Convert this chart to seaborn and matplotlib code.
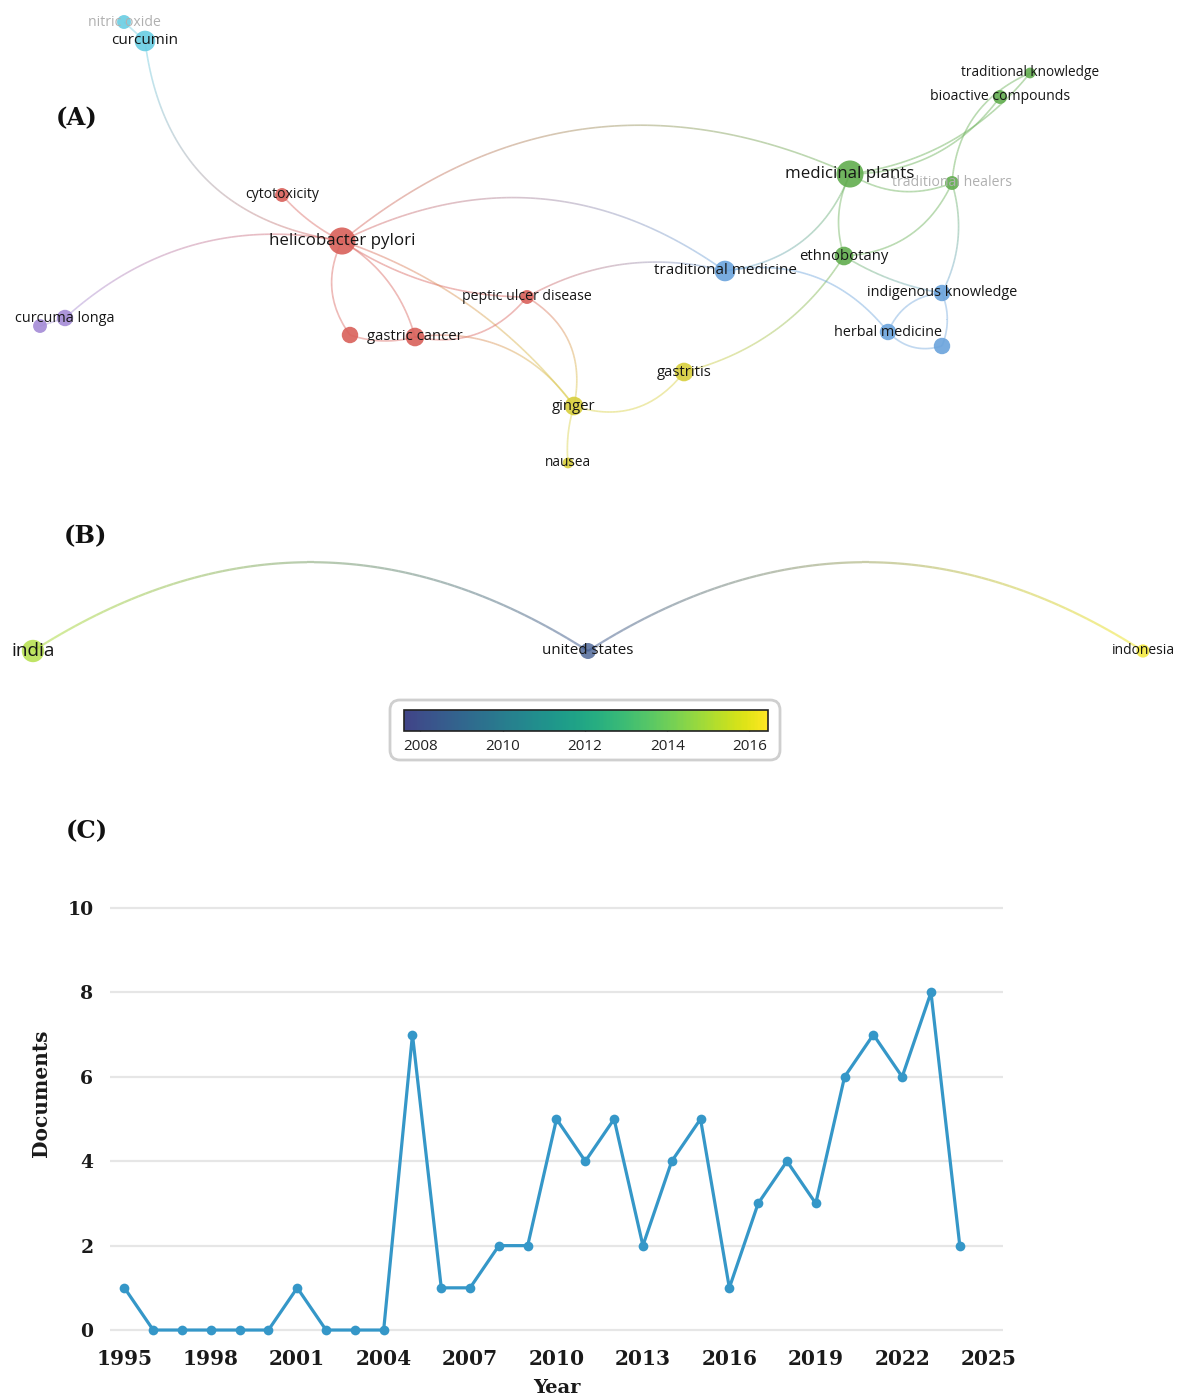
import numpy as np
import pandas as pd
import matplotlib
matplotlib.use("Agg")
import matplotlib.pyplot as plt
import seaborn as sns
from matplotlib.collections import LineCollection
from matplotlib.patches import FancyBboxPatch
from matplotlib.colors import Normalize, to_rgb, LinearSegmentedColormap
from matplotlib.cm import ScalarMappable

sns.set_theme(style="white")
plt.rcParams['font.family'] = ['Open Sans', 'DejaVu Sans']

# ==========================================
# (A) keyword co-occurrence network (positions, pixel units)
# ==========================================
kw_ids = ["nitric oxide", "curcumin", "cytotoxicity", "helicobacter pylori",
          "curcuma longa", "purple_2", "peptic ulcer disease", "red_2",
          "gastric cancer", "ginger", "nausea", "gastritis",
          "traditional medicine", "ethnobotany", "medicinal plants",
          "traditional healers", "traditional knowledge", "bioactive compounds",
          "indigenous knowledge", "herbal medicine", "blue_2"]
kw_x = [124, 145, 282, 342, 65, 40, 527, 350, 415, 574, 568, 684,
        725, 844, 850, 952, 1030, 1000, 942, 888, 942]
kw_y = [22, 41, 195, 241, 318, 326, 297, 335, 337, 406, 463, 372,
        271, 256, 174, 183, 73, 97, 293, 332, 346]
kw_cluster = ["cyan", "cyan", "red", "red", "purple", "purple", "red", "red",
              "red", "yellow", "yellow", "yellow", "blue", "green", "green",
              "green", "green", "green", "blue", "blue", "blue"]
kw_weight = [2, 5, 2, 9, 3, 2, 2, 3, 4, 4, 1, 4, 5, 4, 9, 2, 1, 2, 3, 3, 3]
hidden_labels = {"purple_2", "red_2", "blue_2"}
faded_labels = {"nitric oxide", "traditional healers"}

# (source, target, curvature)
kw_links = [
    ("nitric oxide", "curcumin", 0.0),
    ("curcumin", "helicobacter pylori", 0.38),
    ("cytotoxicity", "helicobacter pylori", 0.1),
    ("curcuma longa", "helicobacter pylori", -0.25),
    ("purple_2", "curcuma longa", 0.0),
    ("helicobacter pylori", "medicinal plants", -0.31),
    ("helicobacter pylori", "traditional medicine", -0.3),
    ("helicobacter pylori", "peptic ulcer disease", 0.15),
    ("helicobacter pylori", "red_2", 0.3),
    ("helicobacter pylori", "gastric cancer", -0.2),
    ("helicobacter pylori", "ginger", -0.15),
    ("red_2", "gastric cancer", 0.15),
    ("gastric cancer", "peptic ulcer disease", 0.3),
    ("gastric cancer", "ginger", -0.3),
    ("peptic ulcer disease", "ginger", -0.35),
    ("peptic ulcer disease", "traditional medicine", -0.2),
    ("ginger", "nausea", 0.1),
    ("ginger", "gastritis", 0.35),
    ("gastritis", "ethnobotany", 0.2),
    ("traditional medicine", "medicinal plants", 0.3),
    ("traditional medicine", "herbal medicine", -0.3),
    ("medicinal plants", "ethnobotany", 0.2),
    ("medicinal plants", "traditional healers", 0.25),
    ("medicinal plants", "bioactive compounds", 0.25),
    ("medicinal plants", "traditional knowledge", 0.2),
    ("traditional healers", "traditional knowledge", -0.3),
    ("ethnobotany", "traditional healers", 0.3),
    ("ethnobotany", "indigenous knowledge", 0.1),
    ("traditional healers", "indigenous knowledge", -0.2),
    ("indigenous knowledge", "herbal medicine", 0.3),
    ("herbal medicine", "blue_2", 0.3),
    ("indigenous knowledge", "blue_2", -0.2),
]

CLUSTER_COLORS = {
    "red": "#d9605a", "green": "#62ad4f", "blue": "#6aa3dc",
    "yellow": "#d8cf3c", "purple": "#a48bd6", "cyan": "#68cde3",
}

# ==========================================
# (B) country overlay map
# ==========================================
country_ids = ["india", "united states", "indonesia"]
country_x = [33, 588, 1143]
country_y = [651, 651, 651]
country_year = [2015.0, 2008.3, 2016.2]
country_docs = [5, 2, 1]
country_links = [("india", "united states", -0.32), ("united states", "indonesia", -0.32)]
cbar_ticks = [2008, 2010, 2012, 2014, 2016]

# ==========================================
# (C) documents per year
# ==========================================
years = list(range(1995, 2025))
documents = [1, 0, 0, 0, 0, 0, 1, 0, 0, 0, 7, 1, 1, 2, 2,
             5, 4, 5, 2, 4, 5, 1, 3, 4, 3, 6, 7, 6, 8, 2]

W, H = 1180, 1396
fig = plt.figure(figsize=(W / 100, H / 100), dpi=100)


def px_axes(x0, y0, x1, y1):
    return fig.add_axes([x0 / W, 1 - y1 / H, (x1 - x0) / W, (y1 - y0) / H])


def arc_points(p1, p2, rad, n=80):
    # quadratic bezier, same bend convention as matplotlib arc3 (image y down)
    p1, p2 = np.asarray(p1, float), np.asarray(p2, float)
    d = p2 - p1
    ctrl = (p1 + p2) / 2 + rad * np.array([-d[1], d[0]])
    t = np.linspace(0, 1, n)[:, None]
    return (1 - t) ** 2 * p1 + 2 * (1 - t) * t * ctrl + t ** 2 * p2


def draw_links(ax, links, pos, col, alpha, lw):
    for a, b, rad in links:
        pts = arc_points(pos[a], pos[b], rad)
        segs = np.stack([pts[:-1], pts[1:]], axis=1)
        c1, c2 = np.array(to_rgb(col[a])), np.array(to_rgb(col[b]))
        t = np.linspace(0, 1, len(segs))[:, None]
        rgba = np.hstack([(1 - t) * c1 + t * c2, np.full((len(segs), 1), alpha)])
        ax.add_collection(LineCollection(segs, colors=rgba, linewidths=lw, zorder=1))


ax_map = fig.add_axes([0, 0, 1, 1])
ax_map.patch.set_alpha(0)

# ---------- (A) ----------
df_kw = pd.DataFrame({"id": kw_ids, "x": kw_x, "y": kw_y,
                      "cluster": kw_cluster, "weight": kw_weight})
pos_kw = {r.id: (r.x, r.y) for r in df_kw.itertuples()}
col_kw = {r.id: CLUSTER_COLORS[r.cluster] for r in df_kw.itertuples()}
draw_links(ax_map, kw_links, pos_kw, col_kw, alpha=0.45, lw=1.2)

sns.scatterplot(data=df_kw, x="x", y="y", hue="cluster", palette=CLUSTER_COLORS,
                size="weight", sizes=(60, 380), size_norm=(1, 9), legend=False,
                alpha=0.9, edgecolor="none", ax=ax_map, zorder=3)

for r in df_kw.itertuples():
    if r.id in hidden_labels:
        continue
    fs = 9.8 + 0.3 * (r.weight - 1)
    color = "#b0b0b0" if r.id in faded_labels else "#161616"
    ax_map.text(r.x, r.y, r.id, ha="center", va="center", fontsize=fs,
                color=color, zorder=4)

# ---------- (B) ----------
norm = Normalize(2007.6, 2016.45)
cmap = LinearSegmentedColormap.from_list(
    "viridis_cut", plt.get_cmap("viridis")(np.linspace(0.2, 1.0, 256)))
df_c = pd.DataFrame({"id": country_ids, "x": country_x, "y": country_y,
                     "year": country_year, "docs": country_docs})
pos_c = {r.id: (r.x, r.y) for r in df_c.itertuples()}
col_c = {r.id: cmap(norm(r.year)) for r in df_c.itertuples()}
draw_links(ax_map, country_links, pos_c, col_c, alpha=0.5, lw=1.6)

sns.scatterplot(data=df_c, x="x", y="y", hue="year", palette=cmap,
                hue_norm=norm, size="docs", sizes=(90, 260), size_norm=(1, 5),
                legend=False, alpha=0.75, edgecolor="none", ax=ax_map, zorder=3)
for r in df_c.itertuples():
    ax_map.text(r.x, r.y, r.id, ha="center", va="center",
                fontsize=10 + 0.9 * (r.docs - 1), color="#161616", zorder=4)

ax_map.add_patch(FancyBboxPatch((390, 700), 390, 60,
                                boxstyle="round,pad=0,rounding_size=10",
                                fc="white", ec="#cfcfcf", lw=2, zorder=0))

for txt, x, y in [("(A)", 56, 118), ("(B)", 64, 536), ("(C)", 66, 831)]:
    ax_map.text(x, y, txt, ha="left", va="center", fontsize=17.5,
                fontweight="bold", family="DejaVu Serif", color="#111111")

ax_map.set_xlim(0, W)
ax_map.set_ylim(H, 0)
ax_map.set_axis_off()

cax = px_axes(404, 710, 768, 731)
cb = fig.colorbar(ScalarMappable(norm=norm, cmap=cmap), cax=cax,
                  orientation="horizontal", ticks=cbar_ticks)
cb.outline.set_edgecolor("#222222")
cb.outline.set_linewidth(1.2)
cax.tick_params(direction="in", length=6, width=0.9, color="#333333",
                labelsize=11, pad=6, labelcolor="#222222")

# ---------- (C) ----------
ax = px_axes(110, 899.6, 1003, 1344.8)
sns.lineplot(x=years, y=documents, color="#3597c8", linewidth=2.3,
             marker="o", markersize=7, markeredgewidth=0, ax=ax)
ax.set_xlim(1994.5, 2025.5)
ax.set_ylim(-0.35, 10.2)
ax.set_xticks(range(1995, 2026, 3))
ax.set_yticks(range(0, 11, 2))
ax.yaxis.grid(True, color="#e6e6e6", linewidth=1.6)
ax.xaxis.grid(False)
sns.despine(ax=ax, left=True, bottom=True)
ax.tick_params(length=0, labelsize=14.5, pad=3)
ax.tick_params(axis="y", labelsize=13.5, pad=12)
for lab in ax.get_xticklabels() + ax.get_yticklabels():
    lab.set_family("DejaVu Serif")
    lab.set_fontweight("bold")
    lab.set_color("#1a1a1a")
ax.set_xlabel("Year", family="DejaVu Serif", fontweight="bold", fontsize=14,
              color="#1a1a1a", labelpad=7)
ax.set_ylabel("Documents", family="DejaVu Serif", fontweight="bold", fontsize=14.5,
              color="#1a1a1a")
ax.yaxis.set_label_coords(-0.066, 0.566)

fig.savefig("out.png", dpi=100)
